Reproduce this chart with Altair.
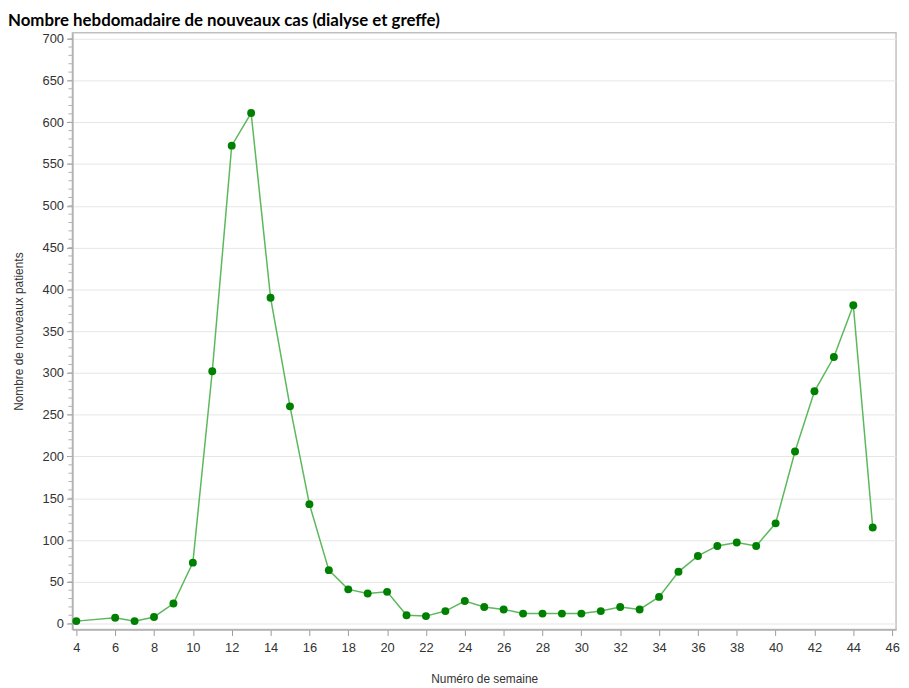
import altair as alt
import pandas as pd

weeks = [4, 6, 7, 8, 9, 10, 11, 12, 13, 14, 15, 16, 17, 18, 19, 20, 21, 22, 23, 24,
         25, 26, 27, 28, 29, 30, 31, 32, 33, 34, 35, 36, 37, 38, 39, 40, 41, 42, 43, 44, 45]
cases = [3, 7, 3, 8, 24, 73, 302, 572, 611, 390, 260, 143, 64, 41, 36, 38, 10, 9, 15, 27,
         20, 17, 12, 12, 12, 12, 15, 20, 17, 32, 62, 81, 93, 97, 93, 120, 206, 278, 319, 381, 115]
x_ticks = list(range(4, 47, 2))
y_ticks = list(range(0, 701, 50))
y_minor = list(range(0, 701, 10))

df = pd.DataFrame({"semaine": weeks, "cas": cases})
minor_df = pd.DataFrame({"cas": y_minor})

FONT = "Liberation Sans"
xscale = alt.Scale(domain=[3.8, 46.2], nice=False, zero=False)
yscale = alt.Scale(domain=[-7, 707], nice=False, zero=False)

x_enc = alt.X("semaine:Q", scale=xscale,
              axis=alt.Axis(title="Numéro de semaine", values=x_ticks, format="d",
                            grid=False, tickSize=6, tickColor="#9a9a9a",
                            domainColor="#b0b0b0", domainWidth=1.5,
                            labelOverlap=False,
                            labelFont=FONT, labelFontSize=13, labelColor="#333333",
                            labelPadding=6, titleFont=FONT, titleFontSize=12,
                            titleFontWeight="normal", titleColor="#333333",
                            titlePadding=20))
y_enc = alt.Y("cas:Q", scale=yscale,
              axis=alt.Axis(title="Nombre de nouveaux patients", values=y_ticks, format="d",
                            grid=True, gridColor="#e6e6e6", tickSize=6, tickColor="#9a9a9a",
                            domainColor="#b0b0b0", domainWidth=1.5, labelOverlap=False,
                            labelFont=FONT, labelFontSize=13, labelColor="#333333",
                            labelPadding=3, titleFont=FONT, titleFontSize=12,
                            titleFontWeight="normal", titleColor="#333333",
                            titlePadding=17))

line = alt.Chart(df).mark_line(color="#5cb85c", strokeWidth=1.5).encode(x=x_enc, y=y_enc)
pts = alt.Chart(df).mark_circle(color="#008000", size=64, opacity=1).encode(x=x_enc, y=y_enc)
minor = alt.Chart(minor_df).mark_rule(color="#b0b0b0", strokeWidth=1).encode(
    y=y_enc, x=alt.value(-4), x2=alt.value(0))

chart = alt.layer(line, pts, minor).properties(
    width=831, height=602,
    autosize=alt.AutoSizeParams(type="none"),
    padding={"left": 65, "top": 22, "right": 5, "bottom": 56},
    title=alt.TitleParams("Nombre hebdomadaire de nouveaux cas (dialyse et greffe)",
                          anchor="start", frame="group", dx=-65, offset=3,
                          font="Lato", fontSize=17, fontWeight="bold", color="#000000"),
).configure_view(stroke="#c0c0c0", strokeWidth=1.5)

chart.save("out.html", embed_options={"renderer": "svg", "actions": False})
